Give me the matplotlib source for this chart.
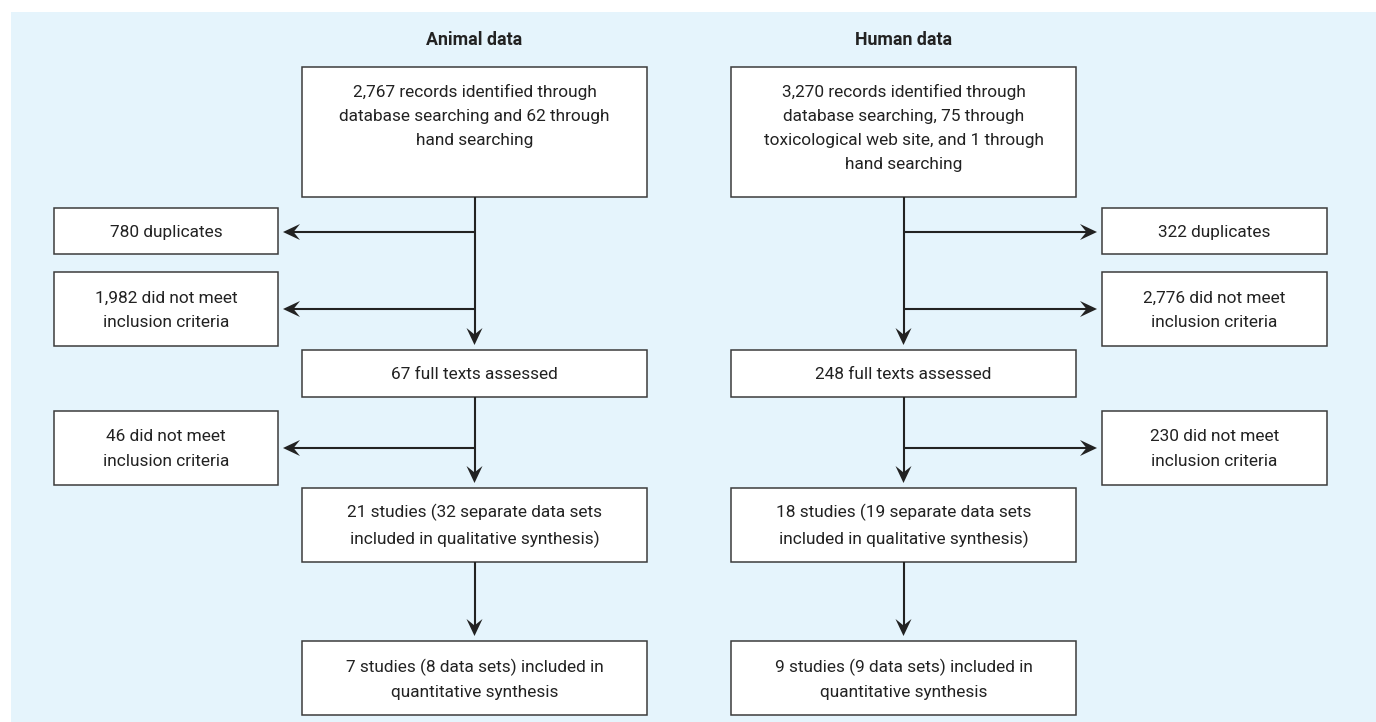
import numpy as np
import matplotlib
matplotlib.use("Agg")
import matplotlib.pyplot as plt
from matplotlib.patches import Rectangle, Polygon

# texts of the flow diagram
panel_titles = ["Animal data", "Human data"]

animal_main = [
    "2,767 records identified through\ndatabase searching and 62 through\nhand searching",
    "67 full texts assessed",
    "21 studies (32 separate data sets\nincluded in qualitative synthesis)",
    "7 studies (8 data sets) included in\nquantitative synthesis",
]
animal_excluded = [
    "780 duplicates",
    "1,982 did not meet\ninclusion criteria",
    "46 did not meet\ninclusion criteria",
]

human_main = [
    "3,270 records identified through\ndatabase searching, 75 through\ntoxicological web site, and 1 through\nhand searching",
    "248 full texts assessed",
    "18 studies (19 separate data sets\nincluded in qualitative synthesis)",
    "9 studies (9 data sets) included in\nquantitative synthesis",
]
human_excluded = [
    "322 duplicates",
    "2,776 did not meet\ninclusion criteria",
    "230 did not meet\ninclusion criteria",
]

family = "Roboto"

W, H = 1376, 722
fig = plt.figure(figsize=(W / 100, H / 100), dpi=100)
ax = fig.add_axes([0, 0, 1, 1])
ax.set_xlim(0, W)
ax.set_ylim(H, 0)
ax.set_axis_off()

bg = "#e5f4fc"
edge = "#3c3c3c"
line_c = "#222222"
fs = 12.4
ls = 1.76

ax.add_patch(Rectangle((11, 12), W - 11, H - 12, facecolor=bg, edgecolor="none", zorder=0))

# layout (pixels)
main_x = [(302, 647), (731, 1076)]
main_rows = [(67, 197), (350, 397), (488, 562), (641, 715)]
side_x = [(54, 278), (1102, 1327)]
side_rows = [(208, 254), (272, 346), (411, 485)]
side_arrow_y = [232, 309, 448]


def box(x0, x1, y0, y1, text, top=False):
    ax.add_patch(Rectangle((x0, y0), x1 - x0, y1 - y0, facecolor="white",
                           edgecolor=edge, linewidth=1.1, zorder=2))
    if top:
        ax.text((x0 + x1) / 2, y0 + 17, text, ha="center", va="top", fontsize=fs,
                family=family, color="#222222", linespacing=ls, zorder=3)
    else:
        ax.text((x0 + x1) / 2, (y0 + y1) / 2 + 1, text, ha="center", va="center",
                fontsize=fs, family=family, color="#222222", linespacing=ls, zorder=3)


def head(xt, yt, dx, dy, L=17, Wd=16):
    # concave arrowhead, tip at (xt, yt)
    d = np.array([dx, dy], float)
    d /= np.linalg.norm(d)
    n = np.array([-d[1], d[0]])
    tip = np.array([xt, yt])
    pts = [tip, tip - L * d + Wd / 2 * n, tip - 0.62 * L * d, tip - L * d - Wd / 2 * n]
    ax.add_patch(Polygon(pts, closed=True, facecolor=line_c, edgecolor="none", zorder=4))


def arrow(x0, y0, x1, y1):
    d = np.array([x1 - x0, y1 - y0], float)
    d /= np.linalg.norm(d)
    ax.plot([x0, x1 - 10 * d[0]], [y0, y1 - 10 * d[1]], color=line_c, lw=1.5,
            solid_capstyle="butt", zorder=3)
    head(x1, y1, d[0], d[1])


for k, (mains, excl) in enumerate([(animal_main, animal_excluded), (human_main, human_excluded)]):
    x0, x1 = main_x[k]
    cx = (x0 + x1) / 2
    ax.text(cx, 40, panel_titles[k], ha="center", va="center", fontsize=12.8,
            fontweight="bold", family=family, color="#222222")
    for i, t in enumerate(mains):
        y0, y1 = main_rows[i]
        box(x0, x1, y0, y1, t, top=(i == 0))
    # vertical arrows between main boxes
    for i in range(len(mains) - 1):
        arrow(cx, main_rows[i][1], cx, main_rows[i + 1][0] - 5)
    sx0, sx1 = side_x[k]
    for i, t in enumerate(excl):
        y0, y1 = side_rows[i]
        box(sx0, sx1, y0, y1, t)
        ya = side_arrow_y[i]
        if k == 0:
            arrow(cx, ya, sx1 + 5, ya)
        else:
            arrow(cx, ya, sx0 - 5, ya)

fig.savefig("out.png", dpi=100, facecolor="white")
